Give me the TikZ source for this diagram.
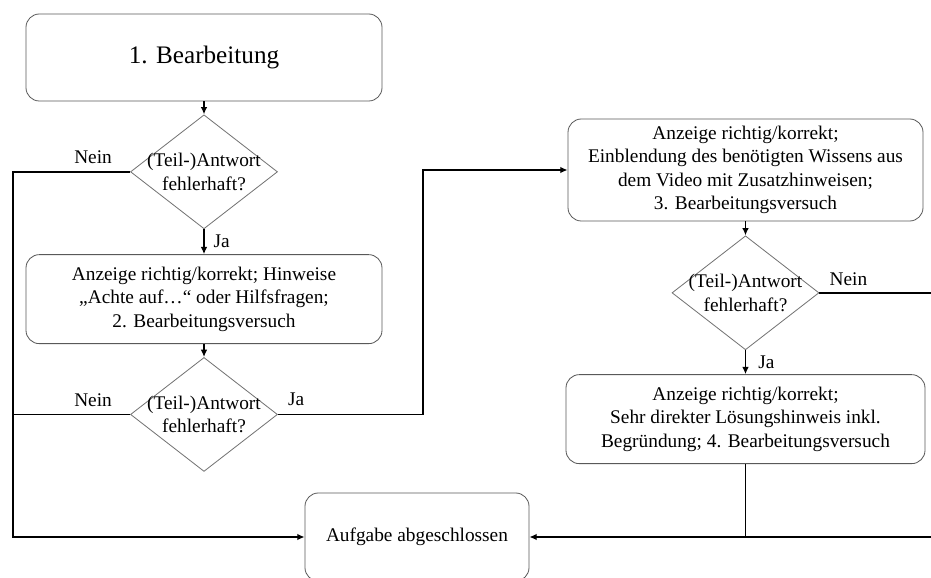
\documentclass[tikz,border=0pt]{standalone}
\usepackage{fontspec}
\setmainfont{Liberation Serif}
\usepackage{xcolor}
\usepackage{tikz}
\usetikzlibrary{arrows.meta,positioning,shapes.geometric}

\begin{document}
\begin{tikzpicture}[
  box/.style={draw=black!65, line width=0.7pt, rounded corners=0.4cm, align=center,
    font=\fontsize{16.5}{20}\selectfont, inner sep=0pt},
  dec/.style={draw=black!55, line width=0.7pt, diamond, aspect=1.29, align=center,
    minimum width=4.41cm, minimum height=3.42cm, inner sep=-4pt,
    font=\fontsize{16.5}{20}\selectfont},
  lbl/.style={inner sep=0.06cm, font=\fontsize{16.5}{20}\selectfont},
  arr/.style={-{Latex[length=2.2mm,width=2mm]}, line width=1.6pt},
  line/.style={line width=1.6pt}
]
\useasboundingbox (0,0) rectangle (27.93,17.31);
\coordinate (lrail) at (0.39,0);
\coordinate (rrail) at (28.3,0);

\node[box, minimum width=10.68cm, minimum height=2.61cm,
  font=\fontsize{21.5}{25}\selectfont] (start) at (6.12,15.585) {1. Bearbeitung};
\node[dec, below=0.39cm of start] (q1) {(Teil-)Antwort\\fehlerhaft?};
\node[box, minimum width=10.68cm, minimum height=2.67cm, below=0.75cm of q1] (hint1)
  {Anzeige richtig/korrekt; Hinweise\\„Achte auf…“ oder Hilfsfragen;\\2. Bearbeitungsversuch};
\node[dec, below=0.39cm of hint1] (q2) {(Teil-)Antwort\\fehlerhaft?};

\node[box, minimum width=10.65cm, minimum height=3.06cm] (hint2) at (22.365,12.21)
  {Anzeige richtig/korrekt;\\Einblendung des benötigten Wissens aus\\dem Video mit Zusatzhinweisen;\\3. Bearbeitungsversuch};
\node[dec, below=0.42cm of hint2] (q3) {(Teil-)Antwort\\fehlerhaft?};
\node[box, minimum width=10.77cm, minimum height=2.67cm, below=0.72cm of q3] (hint3)
  {Anzeige richtig/korrekt;\\Sehr direkter Lösungshinweis inkl.\\Begründung; 4. Bearbeitungsversuch};

\node[box, minimum width=6.72cm, minimum height=2.64cm] (done) at (12.51,1.2) {Aufgabe abgeschlossen};

% Nein-Zweige
\node[lbl, above left=0.18cm and 0.48cm of q1.west] (n1) {Nein};
\node[lbl, above left=0.18cm and 0.48cm of q2.west] (n2) {Nein};
\node[lbl, above right=0.15cm and 0.24cm of q3.east] (n3) {Nein};
\node[lbl, above right=0.2cm and 0.24cm of q2.east] (j2) {Ja};

\draw[arr] (start) -- (q1);
\draw[arr] (q1) -- node[lbl, right=0.2cm] (j1) {Ja} (hint1);
\draw[arr] (hint1) -- (q2);
\draw[arr] (hint2) -- (q3);
\draw[arr] (q3) -- node[lbl, right=0.3cm] (j3) {Ja} (hint3);

\draw[arr] (q1.west) -- (q1.west -| lrail) |- (done.west);
\draw[line] (q2.west) -- (q2.west -| lrail);
\draw[arr] (q2.east) -- ++(4.35cm,0) |- (hint2.west);
\draw[arr] (q3.east) -- (q3.east -| rrail) |- (done.east);
\draw[line] (hint3.south) -- (hint3.south |- done.east);
\end{tikzpicture}
\end{document}
